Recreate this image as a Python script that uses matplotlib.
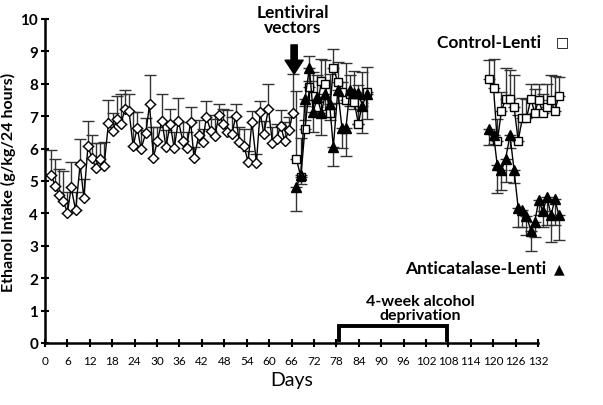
import matplotlib
matplotlib.use("Agg")
import matplotlib.pyplot as plt

plt.rcParams['font.family'] = ['Lato', 'DejaVu Sans']

# Baseline phase (diamonds)
base_x = [1.6, 2.7, 3.8, 4.9, 6.0, 7.0, 8.2, 9.4, 10.4, 11.5,
          12.6, 13.6, 14.7, 15.8, 17.0, 18.1, 19.3, 20.3, 21.4, 22.5,
          23.6, 24.7, 25.7, 27.0, 28.0, 29.0, 30.1, 31.3, 32.4, 33.5,
          34.6, 35.7, 36.9, 37.9, 39.0, 39.9, 41.2, 42.2, 43.2, 44.4,
          45.5, 46.6, 47.7, 48.8, 50.0, 51.1, 52.0, 53.2, 54.4, 55.4,
          56.6, 57.6, 58.6, 59.8, 60.9, 62.0, 63.1, 64.2, 65.3, 66.4]
base_y = [5.2, 4.86, 4.58, 4.38, 4.02, 4.8, 4.1, 5.51, 4.48, 6.07,
          5.7, 5.4, 5.69, 5.45, 6.8, 6.55, 6.92, 6.76, 7.21, 7.15,
          6.07, 6.65, 5.99, 6.48, 7.37, 5.72, 6.23, 6.86, 6.04, 6.77,
          6.01, 6.86, 6.24, 6.02, 6.83, 5.71, 6.42, 6.19, 6.96, 6.55,
          6.39, 7.05, 6.76, 6.5, 6.44, 7.0, 6.21, 6.09, 5.6, 6.83,
          5.57, 7.12, 6.44, 7.23, 6.17, 6.29, 6.7, 6.23, 6.58, 7.11]
base_err = [0.77, 0.83, 0.79, 0.92, 0.64, 0.78, 0.56, 0.8, 0.57, 0.77,
            0.71, 0.77, 0.48, 0.75, 0.7, 0.56, 0.7, 0.92, 0.61, 0.52,
            1.06, 0.48, 0.57, 0.47, 0.9, 0.94, 0.43, 0.84, 0.52, 0.46,
            0.5, 0.7, 0.58, 0.5, 0.45, 0.34, 0.45, 0.43, 0.51, 0.37,
            0.64, 0.34, 0.47, 0.68, 0.54, 0.39, 0.45, 0.53, 0.34, 0.33,
            0.27, 0.35, 0.4, 0.75, 0.5, 0.48, 0.48, 0.6, 0.4, 1.2]

# Post-injection phase
p1_x = [67.3, 68.5, 69.6, 70.8, 71.8, 72.9, 74.0, 75.1, 76.2, 77.2,
        78.4, 79.5, 80.6, 81.6, 82.8, 83.9, 85.0, 86.1]
ctrl1_y = [5.69, 5.12, 6.61, 7.9, 7.62, 7.28, 8.08, 7.98, 7.11, 8.49,
           8.05, 7.75, 7.49, 7.7, 7.44, 6.77, 7.4, 7.75]
ctrl1_err = [2.1, 1.2, 0.7, 0.96, 0.75, 1.0, 0.7, 0.75, 1.2, 0.58,
             0.63, 0.3, 1.16, 0.57, 0.96, 1.18, 0.97, 0.77]
anti1_y = [4.8, 5.2, 7.54, 8.49, 7.12, 7.58, 7.11, 7.7, 7.39, 6.04,
           7.8, 6.65, 6.65, 7.8, 7.72, 7.72, 7.32, 7.7]
anti1_err = [0.73, 0.3, 0.67, 0.4, 0.6, 0.5, 0.7, 0.5, 0.5, 0.57,
             0.4, 0.62, 0.88, 0.5, 0.5, 0.95, 0.83, 0.8]

# After deprivation phase
p2_x = [119.0, 120.1, 121.1, 122.2, 123.3, 124.5, 125.6, 126.7, 127.8, 128.9,
        130.1, 131.1, 132.2, 133.3, 134.4, 135.5, 136.5, 137.6]
ctrl2_y = [8.15, 7.87, 6.22, 7.15, 7.54, 7.54, 7.28, 6.25, 6.93, 6.93,
           7.54, 7.11, 7.49, 7.1, 7.28, 7.49, 7.16, 7.63]
ctrl2_err = [0.58, 0.89, 0.7, 0.6, 0.96, 0.9, 1.0, 0.8, 0.63, 0.6,
             0.46, 0.74, 0.5, 0.6, 0.72, 0.78, 1.08, 0.58]
anti2_y = [6.61, 6.43, 5.48, 5.33, 5.67, 6.41, 5.33, 4.16, 4.09, 3.92,
           3.47, 3.73, 4.4, 4.06, 4.5, 3.94, 4.44, 3.94]
anti2_err = [0.5, 0.3, 0.84, 0.6, 0.7, 0.4, 0.4, 0.58, 0.5, 0.58,
             0.64, 0.47, 0.46, 0.48, 0.87, 0.81, 0.81, 0.75]

x_ticks = list(range(0, 133, 6))
y_ticks = list(range(0, 11))

fig = plt.figure(figsize=(6.03, 4.06), dpi=100)
ax = fig.add_axes([45/603, 62/406, 493/603, 324/406])

ebkw = dict(ecolor='#333333', elinewidth=1.0, capsize=4, capthick=1.2,
            color='black', lw=1.0, clip_on=False)


def draw(x, y, err, up, marker, ms, face):
    yerr = [[0]*len(err), err] if up else [err, [0]*len(err)]
    c = ax.errorbar(x, y, yerr=yerr, marker=marker, ms=ms, mfc=face,
                    mec='black', mew=1.0, **ebkw)
    c.lines[0].set_clip_on(False)
    for grp in c.lines[1:]:
        for a in grp:
            a.set_clip_on(False)


draw(base_x, base_y, base_err, True, 'D', 5.5, 'white')
draw(p1_x, ctrl1_y, ctrl1_err, True, 's', 6, 'white')
draw(p1_x, anti1_y, anti1_err, False, '^', 6.5, 'black')
draw(p2_x, ctrl2_y, ctrl2_err, True, 's', 6, 'white')
draw(p2_x, anti2_y, anti2_err, False, '^', 6.5, 'black')

ax.set_xlim(0, 132)
ax.set_ylim(0, 10)
ax.set_xticks(x_ticks)
ax.set_yticks(y_ticks)
ax.spines['top'].set_visible(False)
ax.spines['right'].set_visible(False)
ax.spines['left'].set_linewidth(1.8)
ax.spines['bottom'].set_linewidth(1.8)
ax.tick_params(axis='both', direction='inout', length=6, width=1.5)
ax.tick_params(axis='x', labelsize=8.5, pad=6)
ax.tick_params(axis='y', labelsize=11, pad=2)
for lab in ax.get_yticklabels():
    lab.set_fontweight('bold')

ax.set_ylabel('Ethanol Intake (g/kg/24 hours)', fontsize=11.5, fontweight='bold', labelpad=3)
ax.set_xlabel('Days', fontsize=14, labelpad=3)

# Annotations
ax.text(66.3, 9.5, 'Lentiviral\nvectors', ha='center', va='bottom', fontsize=12.5,
        fontweight='bold', linespacing=0.92, clip_on=False)
ax.annotate('', xy=(66.7, 8.3), xytext=(66.7, 9.2),
            arrowprops=dict(facecolor='black', edgecolor='black', width=4.5,
                            headwidth=13, headlength=10), annotation_clip=False)

ax.text(134.0, 9.3, 'Control-Lenti ', ha='right', va='center', fontsize=12.5,
        fontweight='bold', clip_on=False)
ax.text(138.5, 9.3, '□', ha='center', va='center', fontsize=10,
        family=['DejaVu Sans'], clip_on=False)
ax.text(135.5, 2.32, 'Anticatalase-Lenti ', ha='right', va='center', fontsize=12.5,
        fontweight='bold', clip_on=False)
ax.text(137.8, 2.32, '▲', ha='center', va='center', fontsize=10,
        family=['DejaVu Sans'], clip_on=False)

ax.plot([78.6, 78.6, 107.6, 107.6], [0.1, 0.53, 0.53, 0.1], color='black', lw=2.8,
        solid_joinstyle='miter', clip_on=False)
ax.text(100.5, 0.66, '4-week alcohol\ndeprivation', ha='center', va='bottom',
        fontsize=11.5, fontweight='bold', linespacing=0.95)

fig.savefig('out.png', dpi=100)
